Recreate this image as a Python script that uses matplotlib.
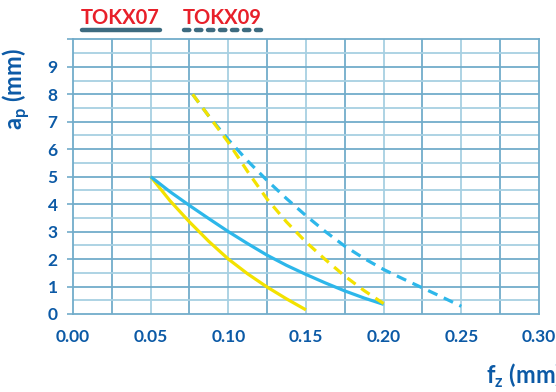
import matplotlib.pyplot as plt
from matplotlib.lines import Line2D
import numpy as np

plt.rcParams['font.family'] = ['Lato', 'DejaVu Sans']
plt.rcParams['mathtext.fontset'] = 'custom'
plt.rcParams['mathtext.rm'] = 'Lato:bold'
plt.rcParams['mathtext.bf'] = 'Lato:bold'

# TOKX07 curves (solid)
x07_blue = [0.05, 0.0625, 0.075, 0.0875, 0.10, 0.1125, 0.125, 0.1375, 0.15, 0.1625, 0.175, 0.1875, 0.20]
y07_blue = [5.0, 4.45, 3.95, 3.47, 3.0, 2.56, 2.14, 1.77, 1.44, 1.13, 0.84, 0.58, 0.35]
x07_yellow = [0.05, 0.0625, 0.075, 0.0875, 0.10, 0.1125, 0.125, 0.1375, 0.15]
y07_yellow = [5.0, 4.12, 3.35, 2.64, 2.0, 1.46, 0.98, 0.55, 0.15]

# TOKX09 curves (dashed)
x09_yellow = [0.077, 0.0875, 0.10, 0.1125, 0.125, 0.1375, 0.15, 0.1625, 0.175, 0.1875, 0.20]
y09_yellow = [8.0, 7.2, 6.25, 5.18, 4.18, 3.35, 2.62, 1.98, 1.38, 0.85, 0.38]
x09_blue = [0.077, 0.0875, 0.10, 0.1125, 0.125, 0.1375, 0.15, 0.1625, 0.175, 0.1875, 0.20,
            0.2125, 0.225, 0.2375, 0.25]
y09_blue = [8.0, 7.2, 6.35, 5.57, 4.86, 4.2, 3.58, 3.0, 2.47, 2.02, 1.62, 1.28, 0.95, 0.62, 0.28]

xticks = [0.00, 0.05, 0.10, 0.15, 0.20, 0.25, 0.30]
yticks = list(range(0, 11))

blue = '#2db7ea'
yellow = '#f3e200'
text_blue = '#0c5aa6'
grid_dark = '#72acca'
grid_light = '#a7d0e2'

fig = plt.figure(figsize=(5.56, 3.92), dpi=100)
ax = fig.add_axes([0.1313, 0.199, 0.838, 0.7007])

# grid
for v in np.arange(0.025, 0.30, 0.025):
    c = grid_light if round(v / 0.025) % 2 == 0 else grid_dark
    ax.axvline(v, color=c, lw=1.3, zorder=1)
for h in np.arange(0.5, 10, 0.5):
    c = grid_dark if h % 1 == 0 else grid_light
    ax.axhline(h, color=c, lw=1.3, zorder=1)

ax.plot(x07_yellow, y07_yellow, color=yellow, lw=2.3, zorder=3, solid_capstyle='butt')
ax.plot(x07_blue, y07_blue, color=blue, lw=2.3, zorder=4, solid_capstyle='butt')
ax.plot(x09_blue, y09_blue, color=blue, lw=2.3, zorder=3, dashes=(3.2, 2.2))
ax.plot(x09_yellow, y09_yellow, color=yellow, lw=2.3, zorder=4, dashes=(3.2, 2.2))

ax.set_xlim(0, 0.30)
ax.set_ylim(0, 10)
ax.set_xticks(xticks)
ax.set_xticklabels(['%.2f' % v for v in xticks])
ax.set_yticks(yticks)
ax.set_yticklabels([str(v) if v < 10 else '' for v in yticks])
ax.tick_params(axis='x', length=0, pad=11, labelsize=12.5, labelcolor=text_blue)
ax.tick_params(axis='y', length=4, width=1.2, color=grid_dark, pad=7,
               labelsize=12.5, labelcolor=text_blue)
for lab in ax.get_xticklabels() + ax.get_yticklabels():
    lab.set_fontweight('bold')
for s in ax.spines.values():
    s.set_color(grid_dark)
    s.set_linewidth(1.3)

fig.text(0.029, 0.773, r'a$_{\mathrm{p}}$ (mm)', rotation=90, ha='center', va='center',
         fontsize=17, fontweight='bold', color=text_blue)
fig.text(0.874, 0.04, r'f$_{\mathrm{z}}$ (mm)', ha='left', va='center',
         fontsize=17, fontweight='bold', color=text_blue)

# legend
red = '#e8202a'
slate = '#3d6b80'
fig.text(0.146, 0.955, 'TOKX07', ha='left', va='center', fontsize=14.5, fontweight='bold', color=red)
fig.text(0.329, 0.955, 'TOKX09', ha='left', va='center', fontsize=14.5, fontweight='bold', color=red)
fig.add_artist(Line2D([0.148, 0.287], [0.923, 0.923], color=slate, lw=3.2,
                      solid_capstyle='round', transform=fig.transFigure))
fig.add_artist(Line2D([0.331, 0.469], [0.923, 0.923], color=slate, lw=3.2,
                      dashes=(1.2, 1.5), dash_capstyle='round', transform=fig.transFigure))

fig.savefig('out.png', dpi=100)
